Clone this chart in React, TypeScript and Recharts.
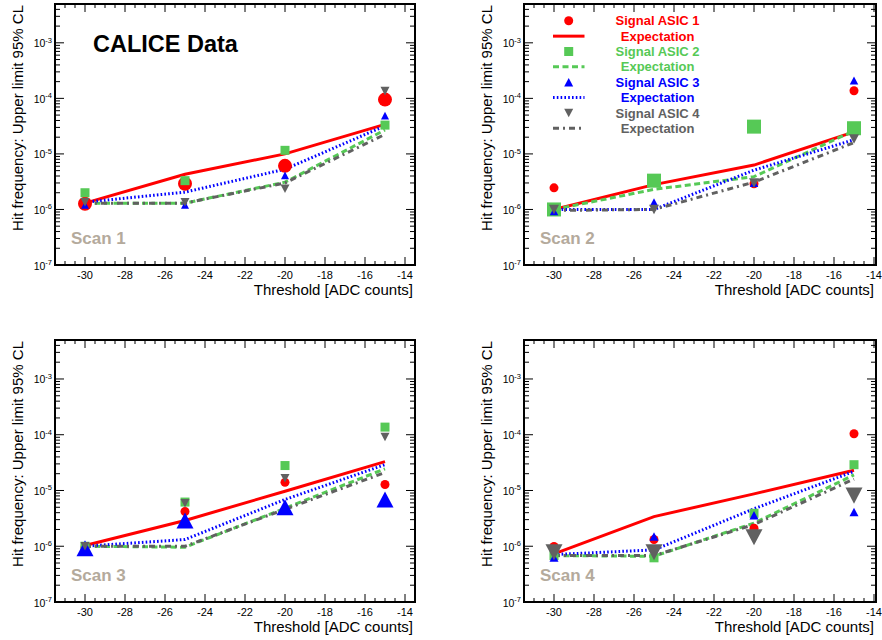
import React from "react";
import { ComposedChart, Line, Scatter, XAxis, YAxis, ReferenceArea, Legend } from "recharts";

const FONT = '"Liberation Sans", Arial, Helvetica, sans-serif';

const RED = "#ff0000";
const GREEN = "#56c956";
const BLUE = "#0000ff";
const GREY = "#616161";
const SCAN_GREY = "#b4aa9c";

// thresholds scanned, in ADC counts
const THRESHOLDS = [-30, -25, -20, -15];

// upper limits on the hit frequency, one row per ASIC (1..4)
const scan1Signal = [
  [1.27e-6, 2.9e-6, 6.1e-6, 9.5e-5],
  [2.0e-6, 3.3e-6, 1.16e-5, 3.3e-5],
  [1.2e-6, 1.2e-6, 4.1e-6, 4.9e-5],
  [1.35e-6, 1.35e-6, 2.36e-6, 1.35e-4],
];
const scan1Expect = [
  [1.3e-6, 4.3e-6, 1.0e-5, 3.4e-5],
  [1.3e-6, 1.3e-6, 3.1e-6, 2.7e-5],
  [1.35e-6, 2.05e-6, 5.3e-6, 3.2e-5],
  [1.3e-6, 1.3e-6, 3.0e-6, 2.25e-5],
];

const scan2Signal = [
  [2.45e-6, 3.2e-6, 2.9e-6, 1.37e-4],
  [1.0e-6, 3.3e-6, 3.1e-5, 2.9e-5],
  [0.93e-6, 1.35e-6, 3.0e-6, 2.1e-4],
  [1.0e-6, 1.0e-6, 3.0e-6, 1.85e-5],
];
const scan2Expect = [
  [1.0e-6, 2.8e-6, 6.3e-6, 2.5e-5],
  [1.0e-6, 2.3e-6, 3.9e-6, 2.6e-5],
  [1.0e-6, 1.0e-6, 5.1e-6, 1.8e-5],
  [0.96e-6, 1.0e-6, 3.1e-6, 1.6e-5],
];

const scan3Signal = [
  [0.96e-6, 4.2e-6, 1.4e-5, 1.28e-5],
  [1.0e-6, 6.2e-6, 2.8e-5, 1.37e-4],
  [0.92e-6, 2.9e-6, 5.0e-6, 6.9e-6],
  [1.0e-6, 5.9e-6, 1.66e-5, 9.1e-5],
];
const scan3Expect = [
  [1.03e-6, 2.9e-6, 9.7e-6, 3.3e-5],
  [1.0e-6, 0.96e-6, 4.8e-6, 2.45e-5],
  [1.0e-6, 1.32e-6, 6.9e-6, 2.9e-5],
  [1.0e-6, 1.0e-6, 4.6e-6, 2.1e-5],
];

const scan4Signal = [
  [0.99e-6, 1.32e-6, 2.1e-6, 1.04e-4],
  [0.68e-6, 0.62e-6, 3.9e-6, 2.9e-5],
  [0.63e-6, 1.5e-6, 3.6e-6, 4.1e-6],
  [0.78e-6, 0.78e-6, 1.45e-6, 8.1e-6],
];
const scan4Expect = [
  [0.73e-6, 3.4e-6, 8.7e-6, 2.3e-5],
  [0.68e-6, 0.66e-6, 2.6e-6, 1.9e-5],
  [0.71e-6, 0.86e-6, 4.7e-6, 2.2e-5],
  [0.68e-6, 0.68e-6, 2.45e-6, 1.6e-5],
];

const ASIC_LABELS = ["Signal ASIC 1", "Signal ASIC 2", "Signal ASIC 3", "Signal ASIC 4"];

// per-ASIC drawing styles
const COLORS = [RED, GREEN, BLUE, GREY];
const MARKERS = ["circle", "square", "up", "down"];
const DASHES = [undefined, "6 3.5", "1.6 2.2", "6 4 2 4"];

const X_MIN = -31.5;
const Y_MIN = 1e-7;
const Y_MAX = 5e-3;

const AXIS_W = 55;
const TOP_PAD = 6;
const RIGHT_PAD = 8;
const X_AXIS_H = 40;

const yTicks: number[] = [];
for (let e = -7; e <= -3; e++) {
  for (let m = 1; m <= 9; m++) {
    const v = Number((m * Math.pow(10, e)).toPrecision(3));
    if (v < Y_MAX * 0.999) yTicks.push(v);
  }
}

function xTicksFor(xMax: number) {
  const t: number[] = [];
  for (let v = X_MIN + 0.5; v <= xMax + 1e-9; v += 0.5) t.push(Math.round(v * 2) / 2);
  return t;
}

function buildRows(signal: number[][], expect: number[][]) {
  return THRESHOLDS.map((x, i) => ({
    x,
    s1: signal[0][i], s2: signal[1][i], s3: signal[2][i], s4: signal[3][i],
    e1: expect[0][i], e2: expect[1][i], e3: expect[2][i], e4: expect[3][i],
  }));
}

function Marker({ cx, cy, kind, color, size }: any) {
  if (cx == null || cy == null) return null;
  const h = size / 2;
  if (kind === "circle") return <circle cx={cx} cy={cy} r={h} fill={color} />;
  if (kind === "square") return <rect x={cx - h} y={cy - h} width={size} height={size} fill={color} />;
  const th = size * 0.95;
  if (kind === "up")
    return <polygon points={`${cx},${cy - th / 2} ${cx + h},${cy + th / 2} ${cx - h},${cy + th / 2}`} fill={color} />;
  return <polygon points={`${cx},${cy + th / 2} ${cx + h},${cy - th / 2} ${cx - h},${cy - th / 2}`} fill={color} />;
}

// log axis tick: inward on both frame sides, label only on decades
function LogTick({ x, y, payload, plotW }: any) {
  const v = payload.value;
  const lg = Math.log10(v);
  const major = Math.abs(lg - Math.round(lg)) < 1e-6;
  const len = major ? 9 : 5;
  return (
    <g>
      <line x1={x} x2={x + len} y1={y} y2={y} stroke="#000" strokeWidth={1} />
      <line x1={x + plotW} x2={x + plotW - len} y1={y} y2={y} stroke="#000" strokeWidth={1} />
      {major && (
        <text x={x - 3} y={y + 4.5} textAnchor="end" fontSize={10.5} fontFamily={FONT} fill="#000">
          10
          <tspan dy={-4.5} fontSize={7.5}>{String(Math.round(lg))}</tspan>
        </text>
      )}
    </g>
  );
}

function LinTick({ x, y, payload, plotH }: any) {
  const v = payload.value;
  const major = Number.isInteger(v) && v % 2 === 0;
  const len = major ? 8 : 4;
  return (
    <g>
      <line x1={x} x2={x} y1={y} y2={y - len} stroke="#000" strokeWidth={1} />
      <line x1={x} x2={x} y1={y - plotH} y2={y - plotH + len} stroke="#000" strokeWidth={1} />
      {major && (
        <text x={x} y={y + 13.5} textAnchor="middle" fontSize={11} fontFamily={FONT} fill="#000">
          {String(v)}
        </text>
      )}
    </g>
  );
}

function LegendBox() {
  const rowY = (i: number) => 16.8 + 15.35 * i;
  return (
    <svg width={200} height={140} style={{ display: "block" }}>
      {COLORS.map((c, i) => (
        <g key={i}>
          <Marker cx={44.7} cy={rowY(2 * i)} kind={MARKERS[i]} color={c} size={9} />
          <line x1={29} x2={60.5} y1={rowY(2 * i + 1)} y2={rowY(2 * i + 1)} stroke={c} strokeWidth={3} strokeDasharray={DASHES[i]} />
          <text x={133.6} y={rowY(2 * i) + 4.6} textAnchor="middle" fontSize={13} fontWeight="bold" fontFamily={FONT} fill={c}>
            {ASIC_LABELS[i]}
          </text>
          <text x={133.6} y={rowY(2 * i + 1) + 4.6} textAnchor="middle" fontSize={13} fontWeight="bold" fontFamily={FONT} fill={c}>
            Expectation
          </text>
        </g>
      ))}
    </svg>
  );
}

function ScanPanel({ frameLeft, frameTop, plotW, plotH, xMax, rows, sizes, title, calice, legend }: any) {
  const width = AXIS_W + plotW + RIGHT_PAD;
  const height = TOP_PAD + plotH + X_AXIS_H;
  return (
    <div style={{ position: "absolute", left: frameLeft - AXIS_W, top: frameTop - TOP_PAD, width, height }}>
      <ComposedChart width={width} height={height} data={rows} margin={{ top: TOP_PAD, right: RIGHT_PAD, left: 0, bottom: 0 }}>
        <XAxis
          dataKey="x"
          type="number"
          domain={[X_MIN, xMax]}
          ticks={xTicksFor(xMax)}
          interval={0}
          allowDataOverflow
          height={X_AXIS_H}
          axisLine={false}
          tickLine={false}
          tickSize={0}
          tickMargin={0}
          tick={(p: any) => <LinTick {...p} plotH={plotH} />}
        />
        <YAxis
          type="number"
          scale="log"
          domain={[Y_MIN, Y_MAX]}
          ticks={yTicks}
          interval={0}
          allowDataOverflow
          width={AXIS_W}
          axisLine={false}
          tickLine={false}
          tickSize={0}
          tickMargin={0}
          tick={(p: any) => <LogTick {...p} plotW={plotW} />}
        />
        <ReferenceArea x1={X_MIN} x2={xMax} y1={Y_MIN} y2={Y_MAX} fill="none" stroke="#000" strokeWidth={2} />
        {COLORS.map((c, i) => (
          <Line
            key={`e${i}`}
            type="linear"
            dataKey={`e${i + 1}`}
            stroke={c}
            strokeWidth={3}
            strokeDasharray={DASHES[i]}
            dot={false}
            activeDot={false}
            isAnimationActive={false}
          />
        ))}
        {COLORS.map((c, i) => (
          <Scatter
            key={`s${i}`}
            dataKey={`s${i + 1}`}
            isAnimationActive={false}
            shape={(p: any) => <Marker cx={p.cx} cy={p.cy} kind={MARKERS[i]} color={c} size={sizes[i]} />}
          />
        ))}
        {legend && (
          <Legend
            layout="horizontal"
            verticalAlign="middle"
            align="center"
            wrapperStyle={{ left: AXIS_W, top: TOP_PAD, width: 200, height: 140 }}
            content={() => <LegendBox />}
          />
        )}
      </ComposedChart>
      <svg width={width} height={height} style={{ position: "absolute", left: 0, top: 0, pointerEvents: "none" }}>
        <text
          x={AXIS_W - 32.3}
          y={TOP_PAD + 1}
          transform={`rotate(-90 ${AXIS_W - 32.3} ${TOP_PAD + 1})`}
          textAnchor="end"
          fontSize={15}
          fontFamily={FONT}
          fill="#000"
        >
          Hit frequency: Upper limit 95% CL
        </text>
        <text x={AXIS_W + plotW - 2} y={TOP_PAD + plotH + 30} textAnchor="end" fontSize={15} fontFamily={FONT} fill="#000">
          Threshold [ADC counts]
        </text>
        <text x={AXIS_W + 16} y={TOP_PAD + plotH - 21.5} fontSize={17} fontWeight="bold" fontFamily={FONT} fill={SCAN_GREY}>
          {title}
        </text>
        {calice && (
          <text x={AXIS_W + 38} y={TOP_PAD + 48.2} fontSize={23.5} fontWeight="bold" fontFamily={FONT} fill="#000">
            CALICE Data
          </text>
        )}
      </svg>
    </div>
  );
}

export default function App() {
  return (
    <div style={{ position: "absolute", left: 0, top: 0, width: 882, height: 640, overflow: "hidden", background: "#fff" }}>
      <ScanPanel frameLeft={55} frameTop={3.5} plotW={360} plotH={261} xMax={-13.5}
        rows={buildRows(scan1Signal, scan1Expect)} sizes={[14, 9, 8, 9]} title="Scan 1" calice />
      <ScanPanel frameLeft={524} frameTop={3.5} plotW={352} plotH={261} xMax={-13.9}
        rows={buildRows(scan2Signal, scan2Expect)} sizes={[9, 14, 8.5, 10]} title="Scan 2" legend />
      <ScanPanel frameLeft={55} frameTop={339.5} plotW={360} plotH={262} xMax={-13.5}
        rows={buildRows(scan3Signal, scan3Expect)} sizes={[9, 9, 17, 9]} title="Scan 3" />
      <ScanPanel frameLeft={524} frameTop={339.5} plotW={352} plotH={262} xMax={-13.9}
        rows={buildRows(scan4Signal, scan4Expect)} sizes={[9, 9, 9, 17]} title="Scan 4" />
    </div>
  );
}
